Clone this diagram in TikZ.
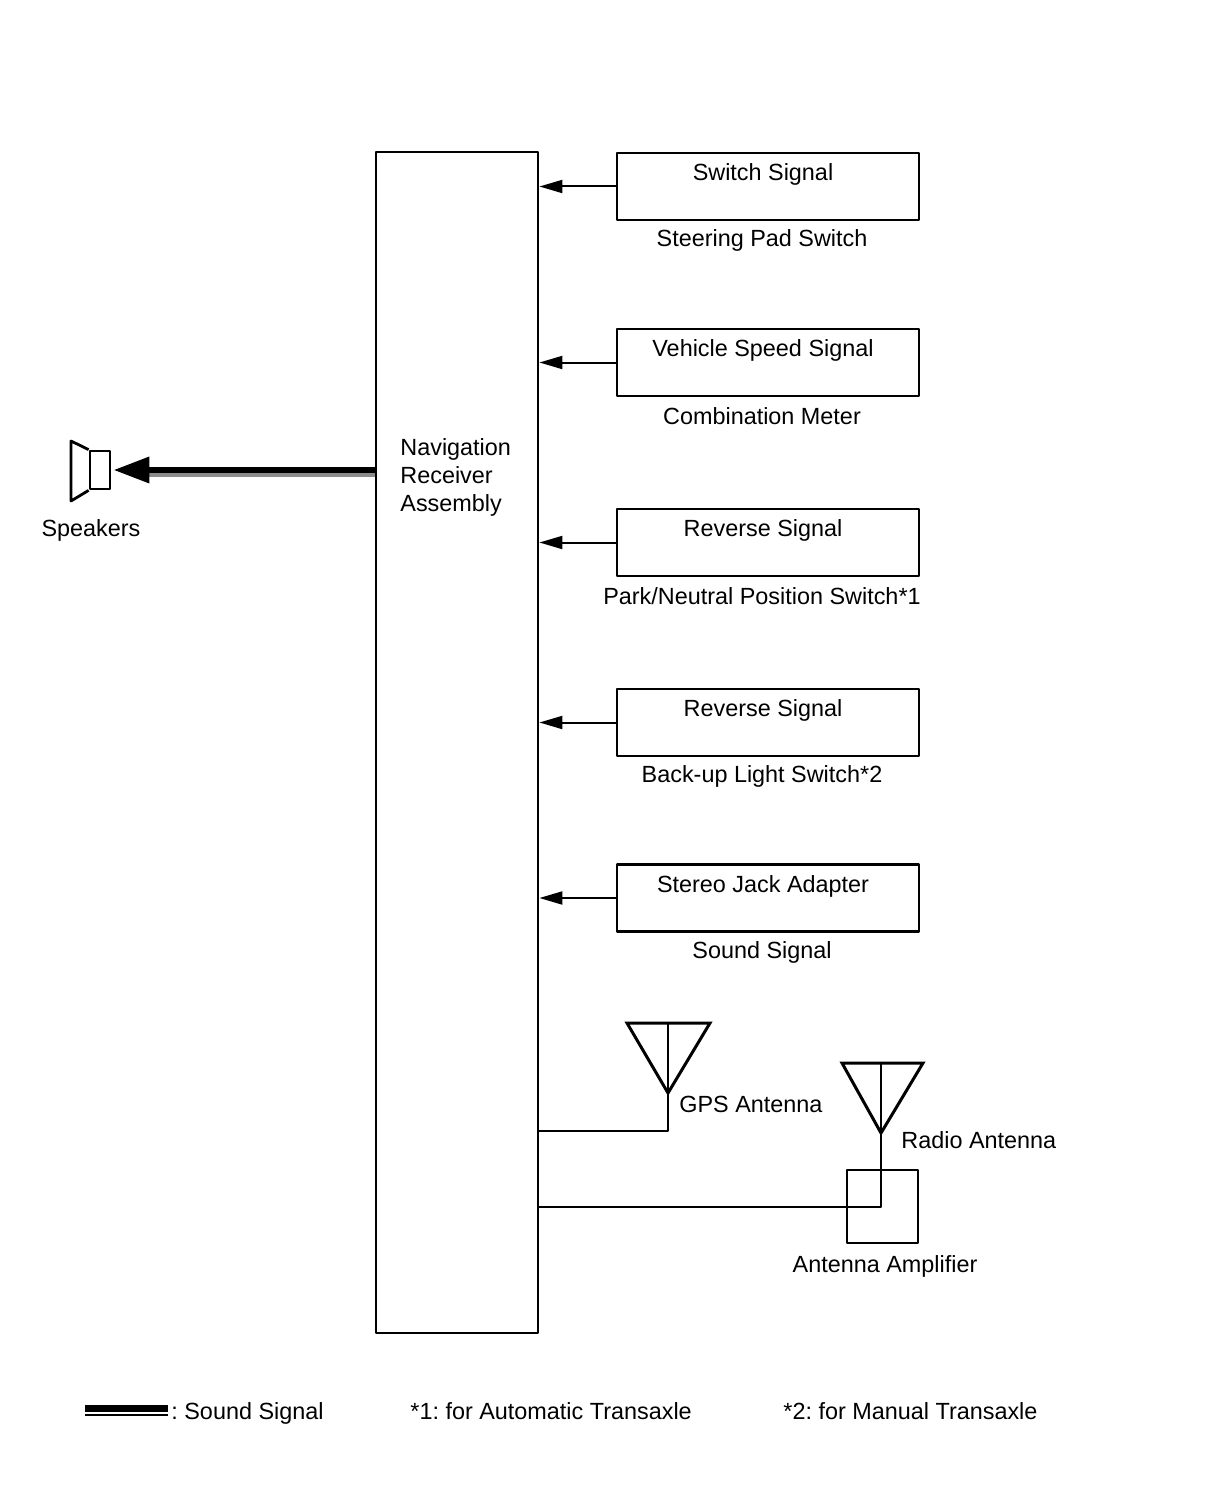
\documentclass[tikz,border=0pt]{standalone}
\usepackage{fontspec}
\setmainfont{Liberation Sans}
\frenchspacing
\usetikzlibrary{arrows.meta,positioning}
\tikzset{
  box/.style={draw, line width=1.4pt, inner sep=0pt},
  sig/.style={line width=1pt, -{Triangle[length=11.5pt,width=6.5pt]}},
  wire/.style={line width=1pt},
  ant/.style={line width=1.5pt, line join=miter},
  snd/.style={line width=3.3pt},
  sndshade/.style={line width=2pt, black!45}
}
\begin{document}
\begin{tikzpicture}[font=\fontsize{11.7}{14}\selectfont, line join=round, line cap=butt, >=stealth, x=0.5pt, y=-0.5pt]
\def \bx{768};
\useasboundingbox (0,0) rectangle (1210,1498);
% navigation receiver
\node[box, minimum width=81pt, minimum height=590.5pt] (nav) at (457,742.5) {};
\node[anchor=west, align=left, inner sep=0pt] (navt) at (400,477) {Navigation\\Receiver\\Assembly};
% signal boxes
\foreach \n/\y/\txt/\lbl in {1/186.5/Switch Signal/Steering Pad Switch,
  2/362.5/Vehicle Speed Signal/Combination Meter,
  3/542.5/Reverse Signal/Park\slash Neutral Position Switch*1,
  4/722.5/Reverse Signal/Back-up Light Switch*2,
  5/898/Stereo Jack Adapter/Sound Signal}{
  \node[box, minimum width=151pt, minimum height=33.5pt] (sig\n) at (\bx,\y) {};
  \node (sig\n-t) at (\bx-5,\y-12) {\txt};
  \node (sig\n-l) at (\bx-6,\y+54) {\lbl};
  \draw[sig] (sig\n.west) -- (sig\n.west -| nav.east);
}
% speakers
\node[box, minimum width=10pt, minimum height=19pt] (spk) at (100,470) {};
\draw[box] (spk.north west) -- (71,441) -- (71,501) -- (spk.south west);
\node (spkl) at (91,530) {Speakers};
\draw[sndshade] ([yshift=-2.5pt]spk.east -| nav.west) -- ([yshift=-2.5pt,xshift=18pt]spk.east);
\draw[snd, -{Triangle[length=18pt,width=12.5pt]}] (spk.east -| nav.west) -- ([xshift=1pt]spk.east);
% gps antenna
\coordinate (gps) at (668,1093);
\coordinate (gpsf) at (668,1131);
\draw[ant] (gps) -- ++(-41,-70) -- ++(83,0) -- cycle;
\draw[wire] (gps) -- ++(0,-70);
\draw[wire] (gps) -- (gpsf) -- (gpsf -| nav.east);
\node[anchor=west, inner sep=0pt] (gpsl) at (679,1104) {GPS Antenna};
% radio antenna and amplifier
\node[draw, line width=1pt, minimum width=35.5pt, minimum height=36.5pt] (amp) at (882.5,1206.5) {};
\coordinate (rad) at (881,1133);
\coordinate (radf) at (881,1207);
\draw[ant] (rad) -- ++(-39,-70) -- ++(81,0) -- cycle;
\draw[wire] (rad) -- ++(0,-70);
\draw[wire] (rad) -- (radf) -- (radf -| nav.east);
\node[anchor=west, inner sep=0pt] (radl) at (901,1140) {Radio Antenna};
\node (ampl) at (885,1266) {Antenna Amplifier};
% legend
\coordinate (lg1) at (85,1408.5);
\coordinate (lg2) at (168,1408.5);
\draw[line width=3.5pt] (lg1) -- (lg2);
\draw[line width=1pt] ([yshift=-3.3pt]lg1) -- ([yshift=-3.3pt]lg2);
\node[anchor=base west, inner sep=0pt] (lgt) at (171,1419) {: Sound Signal};
\node[anchor=base west, inner sep=0pt] (n1) at (410,1419) {*1: for Automatic Transaxle};
\node[anchor=base west, inner sep=0pt] (n2) at (783,1419) {*2: for Manual Transaxle};
\end{tikzpicture}
\end{document}
